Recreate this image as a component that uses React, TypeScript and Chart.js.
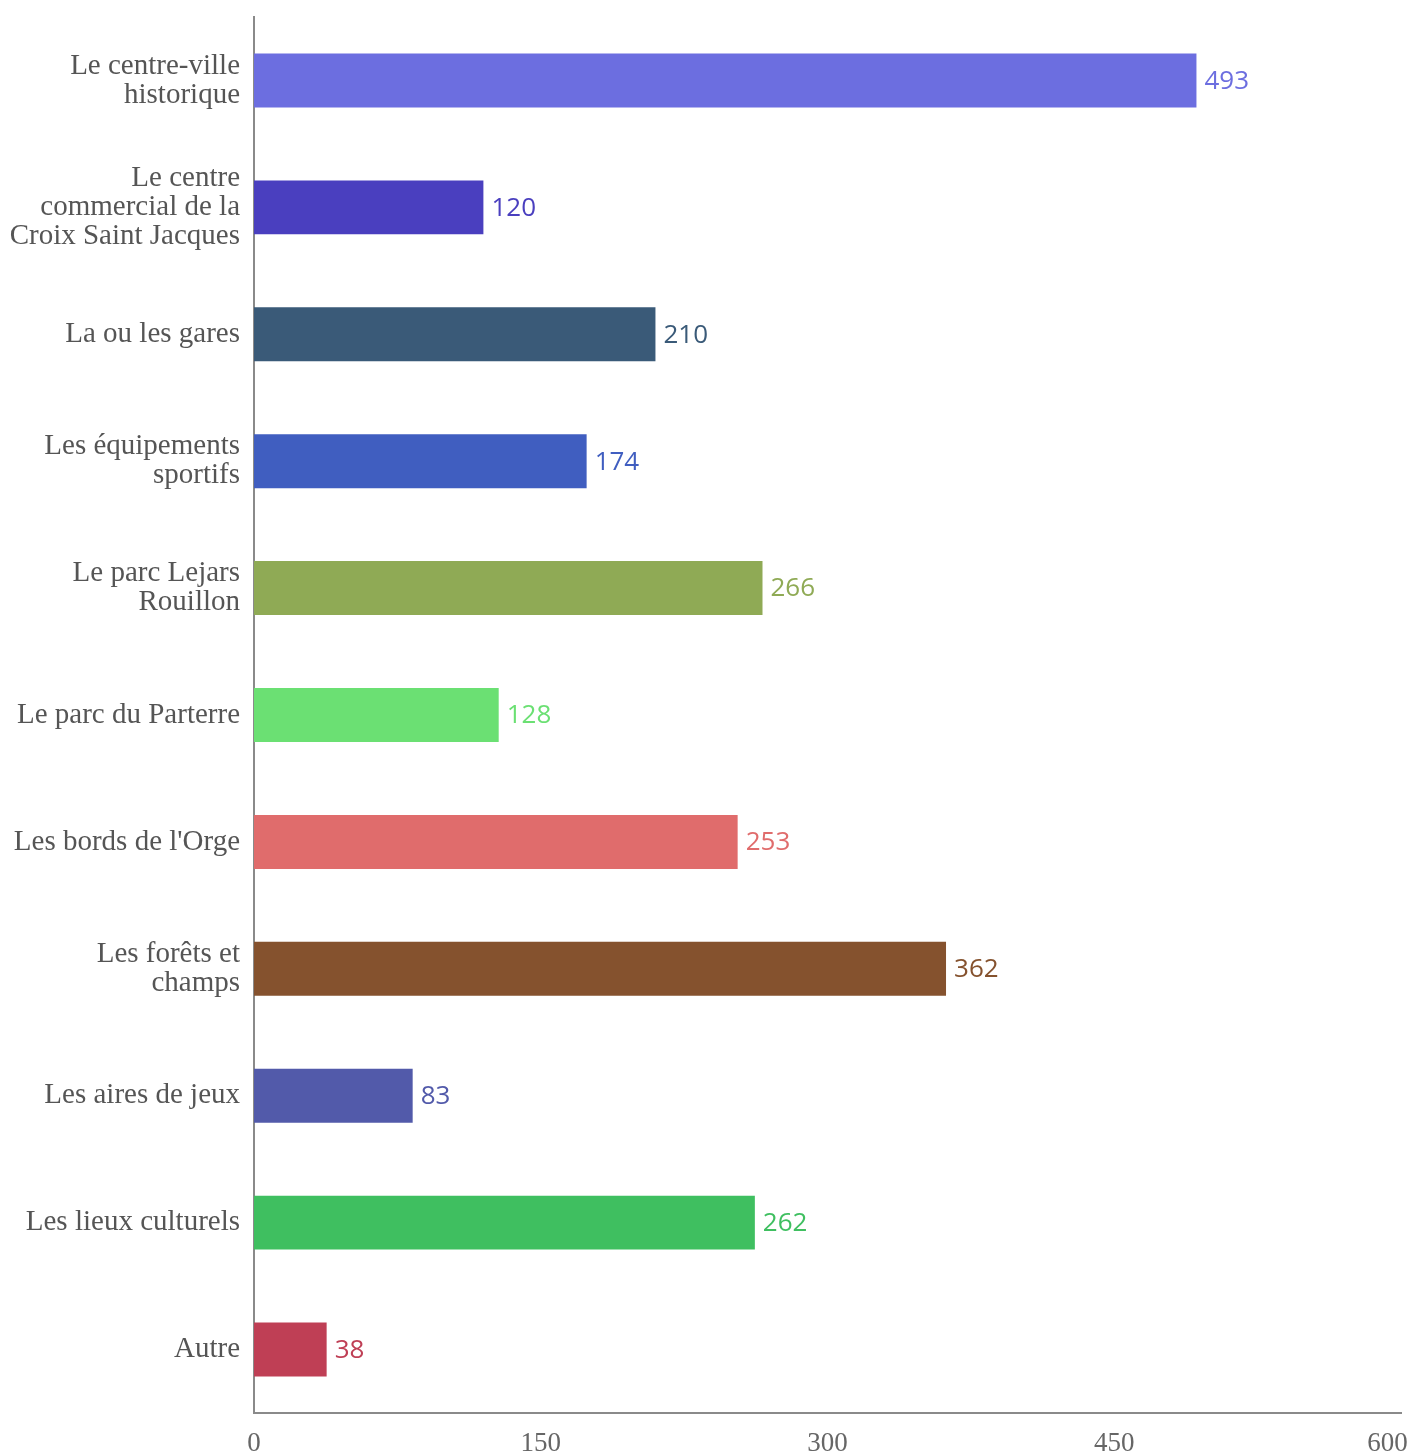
import React, { useEffect, useRef } from "react";
import { Chart, registerables } from "chart.js";

Chart.register(...registerables);

const categories: (string | string[])[] = [
  ["Le centre-ville", "historique"],
  ["Le centre", "commercial de la", "Croix Saint Jacques"],
  "La ou les gares",
  ["Les équipements", "sportifs"],
  ["Le parc Lejars", "Rouillon"],
  "Le parc du Parterre",
  "Les bords de l'Orge",
  ["Les forêts et", "champs"],
  "Les aires de jeux",
  "Les lieux culturels",
  "Autre",
];

const values = [493, 120, 210, 174, 266, 128, 253, 362, 83, 262, 38];

const colors = [
  "#6C6EE0",
  "#4A3FBF",
  "#3A5A78",
  "#405EC0",
  "#8FAA55",
  "#6BE073",
  "#E06C6C",
  "#85522E",
  "#525AAA",
  "#3FBF60",
  "#BF3F55",
];

const xTicks = [0, 150, 300, 450, 600];

const valueLabels = {
  id: "valueLabels",
  afterDatasetsDraw(chart: any) {
    const ctx = chart.ctx;
    const meta = chart.getDatasetMeta(0);
    ctx.save();
    ctx.font = '26px "Open Sans"';
    ctx.textAlign = "left";
    ctx.textBaseline = "middle";
    meta.data.forEach((bar: any, i: number) => {
      ctx.fillStyle = colors[i];
      ctx.fillText(String(values[i]), bar.x + 8, bar.y + 1);
    });
    ctx.restore();
  },
};

export default function App() {
  const ref = useRef<HTMLCanvasElement | null>(null);
  useEffect(() => {
    if (!ref.current) return;
    const chart = new Chart(ref.current, {
      type: "bar",
      data: {
        labels: categories,
        datasets: [
          {
            data: values,
            backgroundColor: colors,
            borderWidth: 0,
            barPercentage: 0.425,
            categoryPercentage: 1,
          },
        ],
      },
      options: {
        indexAxis: "y",
        animation: false,
        responsive: false,
        maintainAspectRatio: false,
        layout: { padding: { top: 0, right: 0, left: 0, bottom: 0 } },
        plugins: {
          legend: { display: false },
          tooltip: { enabled: false },
        },
        scales: {
          x: {
            min: 0,
            max: 600,
            afterBuildTicks: (scale: any) => {
              scale.ticks = xTicks.map((v) => ({ value: v }));
            },
            grid: { display: false },
            border: { display: true, color: "#8a8a8a", width: 2 },
            ticks: {
              color: "#666",
              font: { family: '"Liberation Serif"', size: 27 },
              padding: 7,
              maxRotation: 0,
              callback: (v: any) => (Number(v) === 600 ? "600\u2002\u2002" : String(v)),
            },
            afterFit: (scale: any) => {
              scale.height = 39;
              scale.paddingRight = 12;
              scale.paddingLeft = 0;
            },
          },
          y: {
            grid: { display: false },
            border: { display: true, color: "#8a8a8a", width: 2 },
            ticks: {
              color: "#555",
              font: { family: '"Liberation Serif"', size: 29, lineHeight: 1.0 },
              padding: 6,
            },
            afterFit: (scale: any) => {
              scale.width = 254;
              scale.paddingTop = 17;
              scale.paddingBottom = 0;
            },
          },
        },
      },
      plugins: [valueLabels],
    });
    return () => chart.destroy();
  }, []);
  return (
    <div style={{ position: "fixed", left: 0, top: 0, width: 1413, height: 1452 }}>
      <canvas ref={ref} width={1413} height={1452} style={{ width: 1413, height: 1452 }} />
    </div>
  );
}
